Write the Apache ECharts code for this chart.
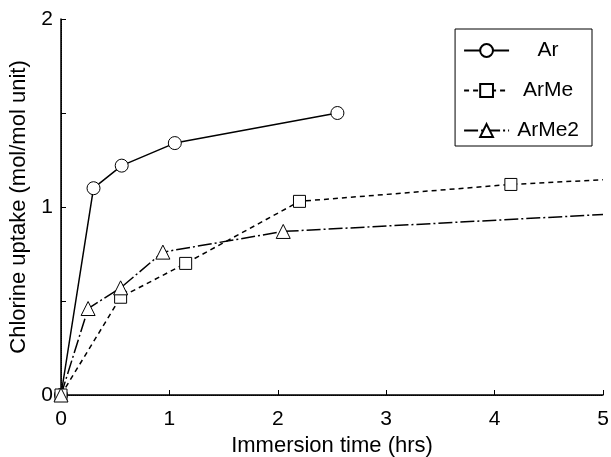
<!DOCTYPE html>
<html>
<head>
<meta charset="utf-8">
<script src="https://cdn.jsdelivr.net/npm/echarts@6/dist/echarts.min.js"></script>
<style>html,body{margin:0;padding:0;background:#fff;}#c{width:611px;height:457px;}</style>
</head>
<body>
<div id="c"></div>
<script>
const seriesNames = ['Ar', 'ArMe', 'ArMe2'];
const arX = [0, 0.30, 0.56, 1.05, 2.55];
const arY = [0, 1.10, 1.22, 1.34, 1.50];
const arMeX = [0, 0.55, 1.15, 2.20, 4.15, 5.0];
const arMeY = [0, 0.52, 0.70, 1.03, 1.12, 1.145];
const arMe2X = [0, 0.25, 0.55, 0.94, 2.05, 5.0];
const arMe2Y = [0, 0.46, 0.57, 0.76, 0.87, 0.96];
const xTicks = [0, 1, 2, 3, 4, 5];
const yTicks = [0, 1, 2];

function pts(xs, ys, lastNoSymbol) {
  return xs.map((x, i) => {
    const p = {value: [x, ys[i]]};
    if (lastNoSymbol && i === xs.length - 1) p.symbol = 'none';
    return p;
  });
}

const font = 'Liberation Sans, Arial, sans-serif';
const chart = echarts.init(document.getElementById('c'), null, {renderer: 'canvas'});
chart.setOption({
  animation: false,
  backgroundColor: '#fff',
  grid: {left: 61, right: 8, top: 19, bottom: 62, containLabel: false, outerBoundsMode: 'none'},
  legend: {
    right: 19, top: 29, orient: 'vertical',
    borderColor: '#000', borderWidth: 1,
    padding: [11, 13, 5, 8],
    itemGap: 19, itemWidth: 45, itemHeight: 16, itemTextGap: 8,
    data: seriesNames,
    formatter: '{a|{name}}',
    textStyle: {
      color: '#000', fontFamily: font, fontSize: 21,
      rich: {a: {width: 68, align: 'center', fontSize: 21, fontFamily: font, color: '#000'}}
    }
  },
  xAxis: [{
    type: 'value', min: 0, max: 5, interval: 1,
    name: 'Immersion time (hrs)', nameLocation: 'middle', nameGap: 38,
    nameTextStyle: {fontFamily: font, fontSize: 22, color: '#000'},
    axisLine: {lineStyle: {color: '#000', width: 1.5}},
    axisTick: {inside: true, length: 5, lineStyle: {color: '#000'}},
    axisLabel: {fontFamily: font, fontSize: 21, color: '#000', margin: 14,
      formatter: v => xTicks.includes(v) ? String(v) : ''},
    splitLine: {show: false}
  }, {
    type: 'value', min: 0, max: 5, position: 'top',
    axisLine: {show: true, lineStyle: {color: '#000', width: 1, type: 'dotted'}},
    axisTick: {show: false}, axisLabel: {show: false}, splitLine: {show: false}
  }],
  yAxis: [{
    type: 'value', min: 0, max: 2, interval: 0.5,
    name: 'Chlorine uptake (mol/mol unit)', nameLocation: 'middle', nameGap: 31,
    nameTextStyle: {fontFamily: font, fontSize: 22, color: '#000'},
    axisLine: {show: true, lineStyle: {color: '#000', width: 1.5}},
    axisTick: {inside: true, length: 5, lineStyle: {color: '#000'}},
    axisLabel: {fontFamily: font, fontSize: 21, color: '#000', margin: 8,
      formatter: v => yTicks.includes(v) ? String(v) : ''},
    splitLine: {show: false}
  }, {
    type: 'value', min: 0, max: 2, position: 'right',
    axisLine: {show: true, lineStyle: {color: '#000', width: 1, type: 'dotted'}},
    axisTick: {show: false}, axisLabel: {show: false}, splitLine: {show: false}
  }],
  series: [{
    name: 'Ar', type: 'line', data: pts(arX, arY, false),
    symbol: 'circle', symbolSize: 13,
    lineStyle: {color: '#000', width: 1.5, type: 'solid'},
    itemStyle: {color: '#fff', borderColor: '#000', borderWidth: 1}
  }, {
    name: 'ArMe', type: 'line', data: pts(arMeX, arMeY, true),
    symbol: 'rect', symbolSize: 12,
    lineStyle: {color: '#000', width: 1.5, type: [5, 4]},
    itemStyle: {color: '#fff', borderColor: '#000', borderWidth: 1}
  }, {
    name: 'ArMe2', type: 'line', data: pts(arMe2X, arMe2Y, true),
    symbol: 'triangle', symbolSize: 14,
    lineStyle: {color: '#000', width: 1.5, type: [14, 3, 2, 3]},
    itemStyle: {color: '#fff', borderColor: '#000', borderWidth: 1}
  }]
});
</script>
</body>
</html>
